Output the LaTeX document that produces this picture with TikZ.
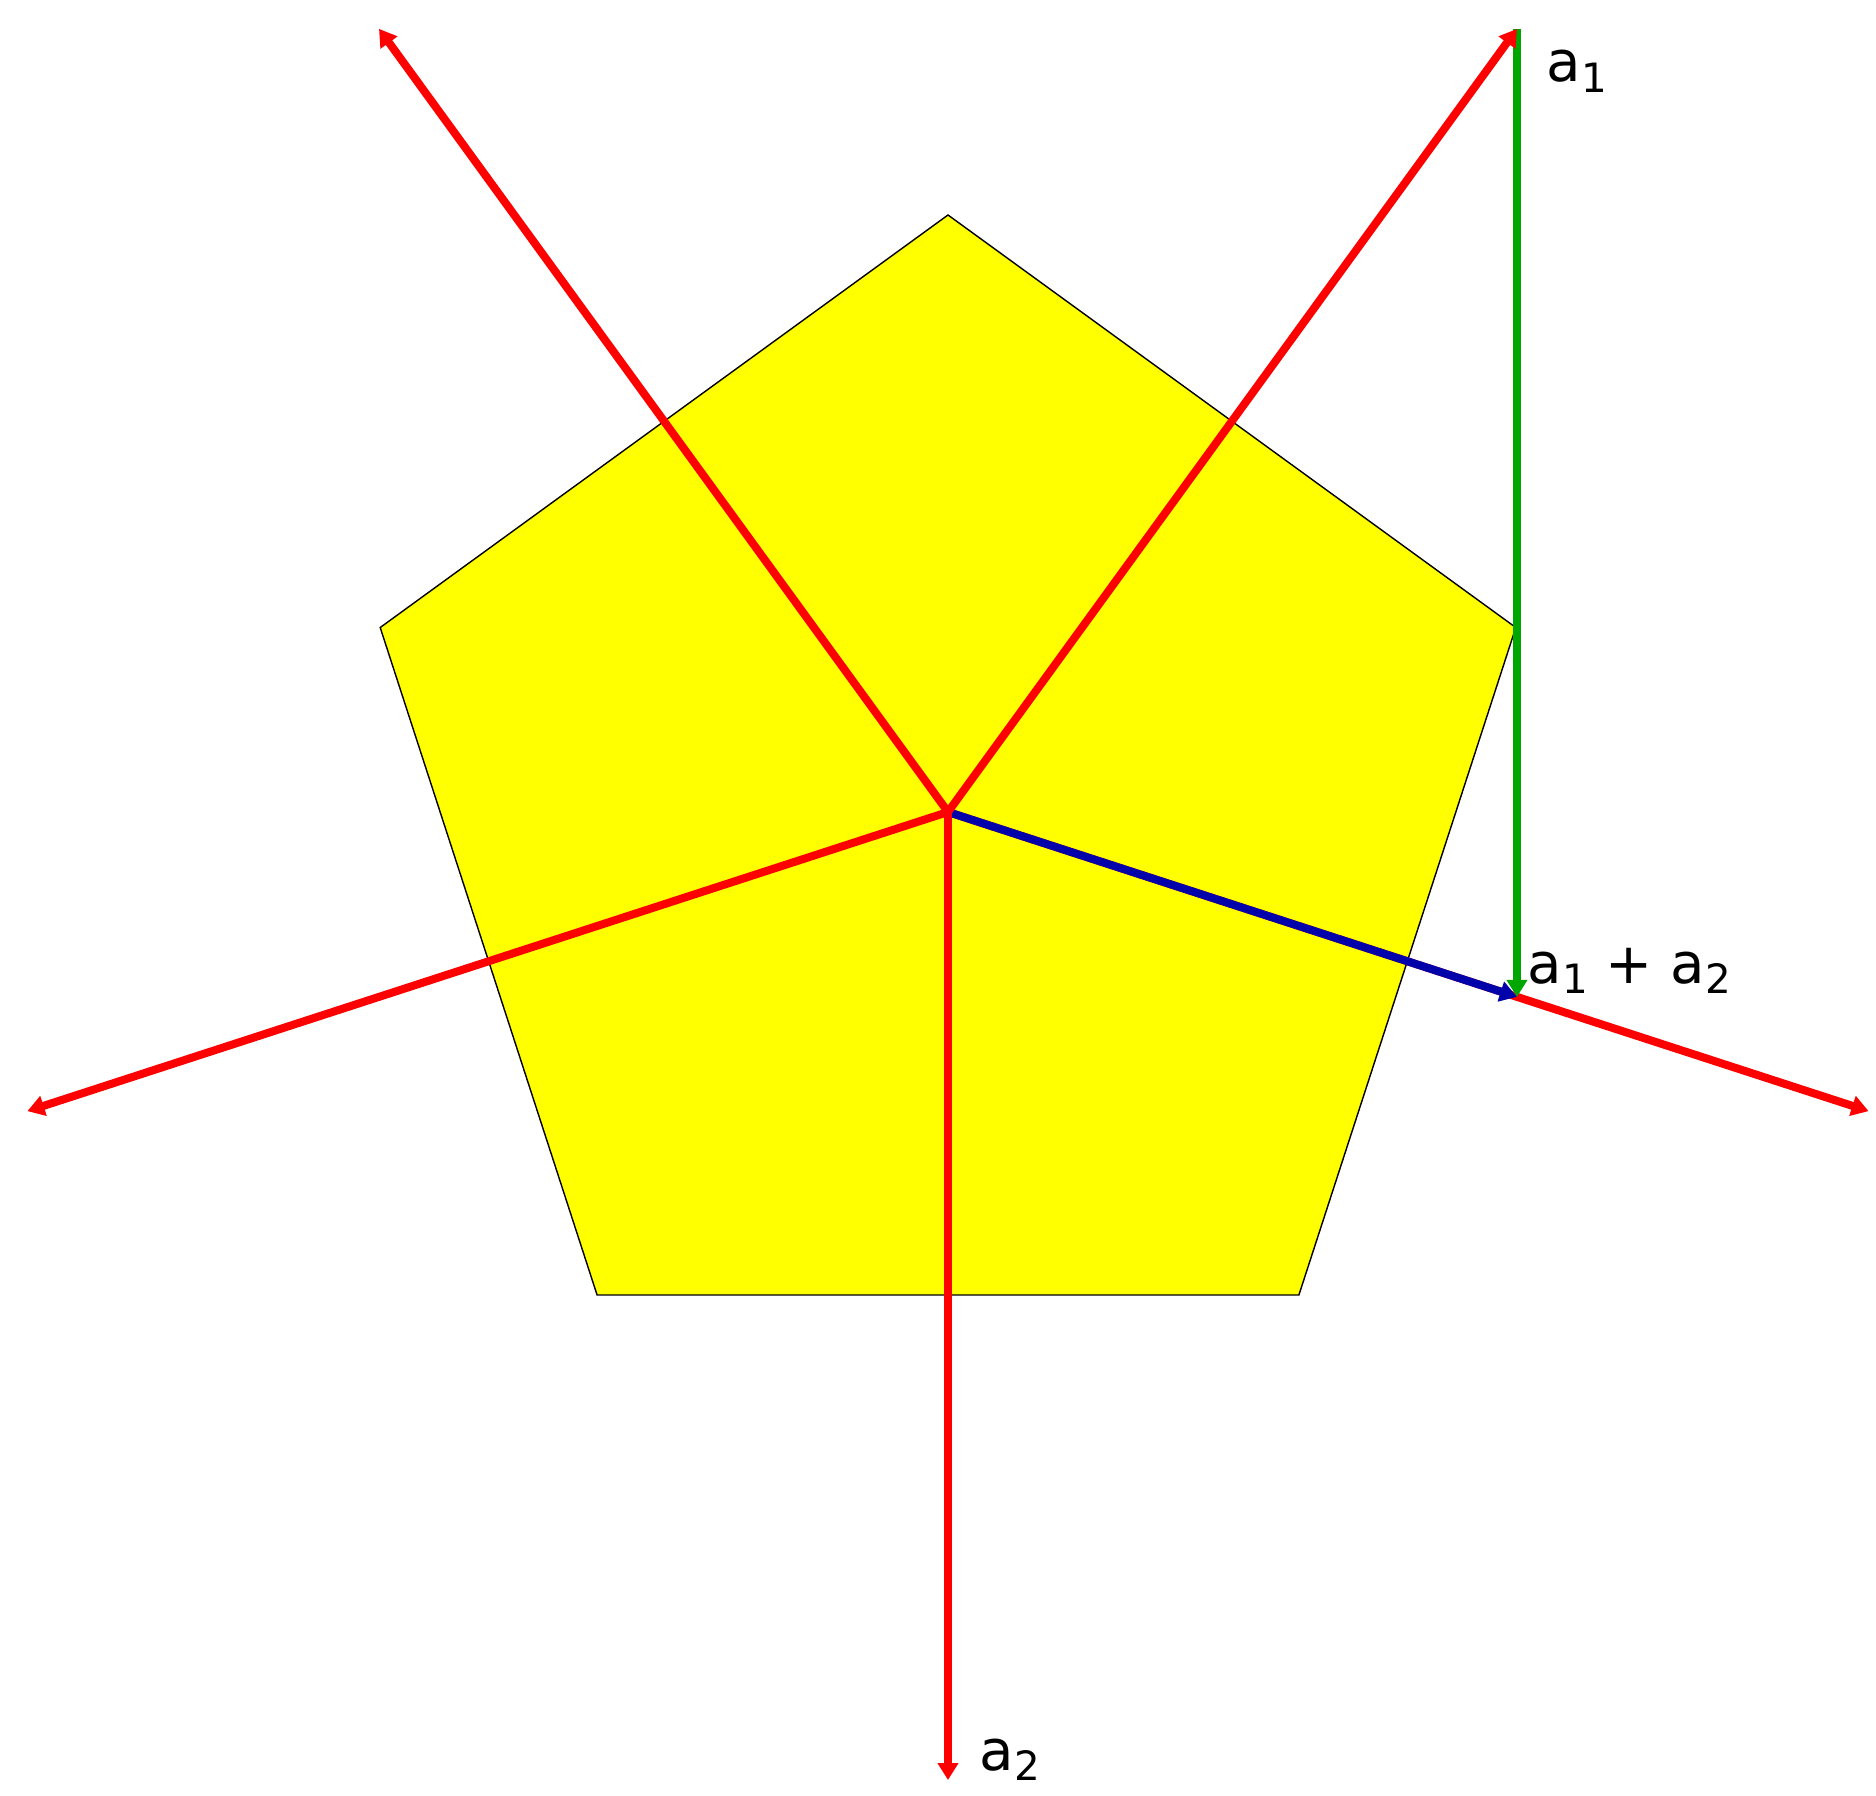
\documentclass[tikz,border=0pt]{standalone}
\usepackage{fontspec}
\setmainfont{DejaVu Sans}
\usetikzlibrary{arrows.meta,calc}
\definecolor{vred}{RGB}{255,0,0}
\definecolor{vgreen}{RGB}{0,166,0}
\definecolor{vblue}{RGB}{0,0,170}
\definecolor{vyellow}{RGB}{255,255,0}
\newcommand{\lbltext}[2]{#1\raisebox{-3.1pt}{\fontsize{11.5pt}{13pt}\selectfont #2}}
\tikzset{
  vec/.style={line width=0.08cm,-{Triangle[length=0.17cm,width=0.2cm]}},
  redvec/.style={vec,draw=vred},
  lbl/.style={inner sep=0pt,anchor=base west,font=\fontsize{16pt}{19pt}\selectfont}
}
\begin{document}
\begin{tikzpicture}
\useasboundingbox (-9.48,-9.83) rectangle (9.28,8.12);
\coordinate (O) at (0,0);
\foreach \i/\a in {1/90,2/162,3/234,4/306,5/18}{\coordinate (P\i) at (\a:5.97);}
\coordinate (A1) at (54:9.68);
\coordinate (A2) at (-90:9.68);
\coordinate (B1) at (126:9.68);
\coordinate (B2) at (198:9.68);
\coordinate (B3) at (-18:9.68);
\coordinate (S) at ($(A1)+(A2)$);
\fill[vyellow] (P1) -- (P2) -- (P3) -- (P4) -- (P5) -- cycle;
\draw[black,line width=0.4pt,line join=miter] (P1) -- (P2) -- (P3) -- (P4) -- (P5) -- cycle;
\draw[redvec] (O) -- (B3);
\draw[vec,draw=vblue,fill=vblue] (O) -- (S);
\draw[vec,draw=vgreen] (A1) -- (S);
\draw[redvec] (O) -- (A1);
\draw[redvec] (O) -- (B1);
\draw[redvec] (O) -- (B2);
\draw[redvec] (O) -- (A2);
\node[lbl] (L1) at (5.98,7.30) {\lbltext{a}{1}};
\node[lbl] (L2) at (5.79,-1.71) {\lbltext{a}{1} + \lbltext{a}{2}};
\node[lbl] (L3) at (0.31,-9.58) {\lbltext{a}{2}};
\end{tikzpicture}
\end{document}
